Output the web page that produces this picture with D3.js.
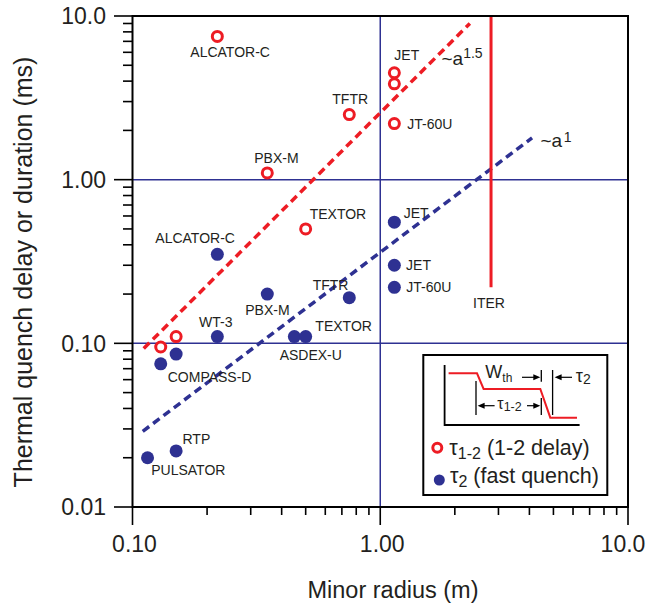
<!DOCTYPE html>
<html>
<head>
<meta charset="utf-8">
<script src="https://cdn.jsdelivr.net/npm/d3@7"></script>
<style>
  body { margin: 0; background: #fff; }
  svg { display: block; font-family: "Liberation Sans", Arial, Helvetica, sans-serif; }
</style>
</head>
<body>
<svg id="chart" width="648" height="605"></svg>
<script>
// Minor radius a (m) and the 1-2 delay τ1-2 (ms) per device
const delayRadius = [0.22, 0.35, 0.75, 1.14, 1.14, 1.14, 0.50, 0.15, 0.13];
const delayTime   = [7.5, 1.1, 2.5, 4.5, 3.85, 2.2, 0.50, 0.11, 0.095];
const delayNames  = ["ALCATOR-C", "PBX-M", "TFTR", "JET", "", "JT-60U", "TEXTOR", "", ""];

// Minor radius a (m) and the fast quench duration τ2 (ms) per device
const quenchRadius = [0.22, 0.35, 0.75, 0.22, 0.45, 0.50, 0.15, 0.13, 1.14, 1.14, 1.14, 0.15, 0.115];
const quenchTime   = [0.35, 0.20, 0.19, 0.11, 0.11, 0.11, 0.086, 0.075, 0.55, 0.30, 0.22, 0.022, 0.020];
const quenchNames  = ["ALCATOR-C", "PBX-M", "TFTR", "WT-3", "ASDEX-U", "TEXTOR", "", "COMPASS-D",
                      "JET", "JET", "JT-60U", "RTP", "PULSATOR"];

// Scaling trend lines (end points), ~a^1.5 and ~a^1
const fitDelay  = [[0.111, 0.093], [2.3, 9.0]];
const fitQuench = [[0.110, 0.029], [4.1, 1.8]];

// ITER minor radius and the lower end of its projected range
const iterRadius = 2.8;
const iterRange  = [0.22, 10];

// Axis ticks
const xTicks = [0.1, 1, 10];
const xTickLabels = ["0.10", "1.00", "10.0"];
const yTicks = [0.01, 0.1, 1, 10];
const yTickLabels = ["0.01", "0.10", "1.00", "10.0"];
const xGrid = [1];
const yGrid = [0.1, 1];

const RED = "#ed1c24", NAVY = "#2e3192", INK = "#231f20";
const L = 132.5, R = 628, T = 16, B = 507;

const svg = d3.select("#chart");
const x = d3.scaleLog().domain([0.1, 10]).range([L, R]);
const y = d3.scaleLog().domain([0.01, 10]).range([B, T]);

// grid lines at 1 m and at 0.1 / 1 ms
svg.append("g").selectAll("line").data(xGrid).join("line")
  .attr("x1", d => x(d)).attr("x2", d => x(d)).attr("y1", T).attr("y2", B)
  .attr("stroke", NAVY).attr("stroke-width", 1.5);
svg.append("g").selectAll("line").data(yGrid).join("line")
  .attr("x1", L).attr("x2", R).attr("y1", d => y(d)).attr("y2", d => y(d))
  .attr("stroke", NAVY).attr("stroke-width", 1.5);

// scaling lines
const line = d3.line().x(d => x(d[0])).y(d => y(d[1]));
svg.append("path").datum(fitDelay).attr("d", line)
  .attr("fill", "none").attr("stroke", RED).attr("stroke-width", 3.5).attr("stroke-dasharray", "8,5");
svg.append("path").datum(fitQuench).attr("d", line)
  .attr("fill", "none").attr("stroke", NAVY).attr("stroke-width", 3.5).attr("stroke-dasharray", "8,5");

// ITER
svg.append("line")
  .attr("x1", x(iterRadius)).attr("x2", x(iterRadius))
  .attr("y1", y(iterRange[0])).attr("y2", y(iterRange[1]))
  .attr("stroke", RED).attr("stroke-width", 3);
svg.append("text").attr("x", x(iterRadius) - 2).attr("y", y(iterRange[0]) + 21)
  .attr("text-anchor", "middle").attr("font-size", 14).attr("fill", INK).text("ITER");

// τ2 points
const quench = quenchRadius.map((r, i) => ({ r, t: quenchTime[i], name: quenchNames[i] }));
svg.append("g").selectAll("circle").data(quench).join("circle")
  .attr("cx", d => x(d.r)).attr("cy", d => y(d.t)).attr("r", 6.5).attr("fill", NAVY);

// τ1-2 points
const delay = delayRadius.map((r, i) => ({ r, t: delayTime[i], name: delayNames[i] }));
svg.append("g").selectAll("circle").data(delay).join("circle")
  .attr("cx", d => x(d.r)).attr("cy", d => y(d.t)).attr("r", 5)
  .attr("fill", "#fff").attr("stroke", RED).attr("stroke-width", 3);

// label placement relative to each point (dx, dy of the text start / baseline)
const delayOffsets = [[-27, 21], [-13, -9.5], [-17, -11], [0, -12.7], null, [13, 5.7], [4, -10], null, null];
const quenchOffsets = [[-62, -11], [-22, 21], [-36.6, -7.6], [-18.3, -10], [-14.7, 23.3], [9.7, -6],
                       null, [7, 18.7], [9.3, -4.4], [11.7, 4.7], [12, 4.7], [6.4, -7.4], [3.7, 17.7]];

function addLabels(data, offsets) {
  svg.append("g").selectAll("text").data(data.filter((d, i) => offsets[i] && d.name))
    .join("text")
    .each(function (d) {
      const o = offsets[data.indexOf(d)];
      d3.select(this).attr("x", x(d.r) + o[0]).attr("y", y(d.t) + o[1]);
    })
    .attr("font-size", 14).attr("fill", INK).text(d => d.name);
}
addLabels(delay, delayOffsets);
addLabels(quench, quenchOffsets);

// scaling line annotations
const ann1 = svg.append("text").attr("x", 441.5).attr("y", 65).attr("fill", INK).attr("font-size", 19);
ann1.append("tspan").text("~a");
ann1.append("tspan").attr("dy", -7).attr("font-size", 14).text("1.5");
const ann2 = svg.append("text").attr("x", 540.5).attr("y", 146.7).attr("fill", INK).attr("font-size", 19);
ann2.append("tspan").text("~a");
ann2.append("tspan").attr("dy", -5).attr("dx", 1.5).attr("font-size", 14).text("1");

// frame
svg.append("rect").attr("x", L).attr("y", T).attr("width", R - L).attr("height", B - T)
  .attr("fill", "none").attr("stroke", "#000").attr("stroke-width", 2);

// major ticks (outward) and minor ticks
const xMinor = x.ticks().filter(v => !xTicks.some(t => Math.abs(t - v) < 1e-9));
const yMinor = y.ticks().filter(v => !yTicks.some(t => Math.abs(t - v) < 1e-9));
const ax = svg.append("g").attr("stroke", "#000").attr("stroke-width", 1.6);
ax.selectAll(".xM").data(xTicks).join("line")
  .attr("x1", d => x(d)).attr("x2", d => x(d)).attr("y1", B).attr("y2", B + 18);
ax.selectAll(".xm").data(xMinor).join("line")
  .attr("x1", d => x(d)).attr("x2", d => x(d)).attr("y1", B).attr("y2", B + 8);
ax.selectAll(".yM").data(yTicks).join("line")
  .attr("y1", d => y(d)).attr("y2", d => y(d)).attr("x1", L).attr("x2", L - 18.5);
ax.selectAll(".ym").data(yMinor).join("line")
  .attr("y1", d => y(d)).attr("y2", d => y(d)).attr("x1", L).attr("x2", L - 9.5);

// tick labels
svg.append("g").selectAll("text").data(xTicks).join("text")
  .attr("x", (d, i) => x(d) + (i === 2 ? -5 : 2)).attr("y", 552)
  .attr("text-anchor", "middle").attr("font-size", 23).attr("fill", INK)
  .text((d, i) => xTickLabels[i]);
svg.append("g").selectAll("text").data(yTicks).join("text")
  .attr("x", 106).attr("y", d => y(d) + 8.2)
  .attr("text-anchor", "end").attr("font-size", 23).attr("fill", INK)
  .text((d, i) => yTickLabels[i]);

// axis titles
svg.append("text").attr("x", 393).attr("y", 598).attr("text-anchor", "middle")
  .attr("font-size", 23.5).attr("fill", INK).text("Minor radius (m)");
svg.append("text").attr("transform", "translate(32,272) rotate(-90)").attr("text-anchor", "middle")
  .attr("font-size", 25).attr("fill", INK).text("Thermal quench delay or duration (ms)");

// legend with quench waveform sketch
const lg = svg.append("g").attr("transform", "translate(423.3,355)");
lg.append("rect").attr("width", 184).attr("height", 140)
  .attr("fill", "#fff").attr("stroke", "#000").attr("stroke-width", 2);
lg.append("path").attr("d", "M21.3,10V70H156.3").attr("fill", "none").attr("stroke", "#000").attr("stroke-width", 1.8);
lg.append("path").attr("d", "M25.3,18.3H53.7L60.3,34H117L127,62.7H153.7")
  .attr("fill", "none").attr("stroke", RED).attr("stroke-width", 2);
lg.append("path").attr("d", "M52.7,26V60M118,15V26.7M118,43V60M129.3,15V60")
  .attr("fill", "none").attr("stroke", "#000").attr("stroke-width", 1.3);
// arrows
const arrows = lg.append("g").attr("stroke", "#000").attr("stroke-width", 1.2).attr("fill", "#000");
function arrow(x1, x2, yy) {
  // head at x2
  const dir = x2 > x1 ? 1 : -1;
  arrows.append("line").attr("x1", x1).attr("x2", x2 - dir * 4).attr("y1", yy).attr("y2", yy);
  arrows.append("path").attr("stroke", "none")
    .attr("d", `M${x2},${yy}L${x2 - dir * 7},${yy - 3}L${x2 - dir * 7},${yy + 3}Z`);
}
arrow(98.7, 117, 22.3);
arrow(148.7, 131.3, 22.3);
arrow(71.3, 54.3, 50.7);
arrow(103.7, 117, 50.7);
const w = lg.append("text").attr("x", 62).attr("y", 23).attr("fill", INK).attr("font-size", 18);
w.append("tspan").text("W");
w.append("tspan").attr("dy", 4).attr("font-size", 12).text("th");
const t2 = lg.append("text").attr("x", 152.5).attr("y", 26.7).attr("fill", INK).attr("font-size", 18);
t2.append("tspan").text("τ");
t2.append("tspan").attr("dy", 2).attr("font-size", 14).text("2");
const t12 = lg.append("text").attr("x", 74).attr("y", 54).attr("fill", INK).attr("font-size", 16);
t12.append("tspan").text("τ");
t12.append("tspan").attr("dy", 2).attr("font-size", 12.5).text("1-2");

// legend entries
lg.append("circle").attr("cx", 14).attr("cy", 92.7).attr("r", 4.5)
  .attr("fill", "#fff").attr("stroke", RED).attr("stroke-width", 3);
lg.append("circle").attr("cx", 16).attr("cy", 125).attr("r", 5.5).attr("fill", NAVY);
const e1 = lg.append("text").attr("x", 26).attr("y", 100).attr("fill", INK).attr("font-size", 21.5);
e1.append("tspan").text("τ");
e1.append("tspan").attr("dy", 4).attr("font-size", 16).text("1-2");
e1.append("tspan").attr("dy", -4).text(" (1-2 delay)");
const e2 = lg.append("text").attr("x", 26.7).attr("y", 128.3).attr("fill", INK).attr("font-size", 21.5);
e2.append("tspan").text("τ");
e2.append("tspan").attr("dy", 4).attr("font-size", 16).text("2");
e2.append("tspan").attr("dy", -4).text(" (fast quench)");
</script>
</body>
</html>
